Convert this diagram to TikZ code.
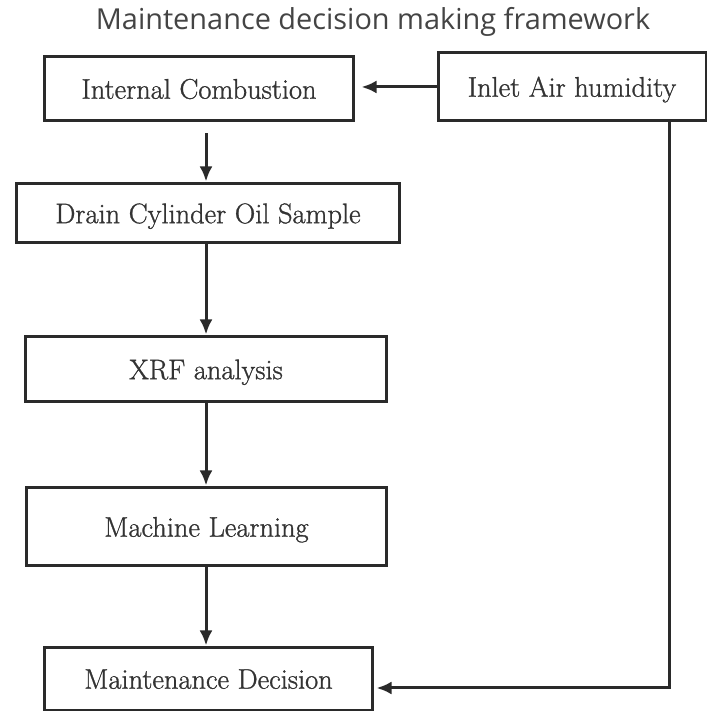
\documentclass[tikz,border=0pt]{standalone}
\usepackage{fontspec}
\newfontfamily\titlefont{Open Sans}
\newfontfamily\boxfont[FakeBold=1]{Latin Modern Roman}
\usetikzlibrary{arrows.meta}
\definecolor{ln}{HTML}{2A2A2A}
\definecolor{tx}{HTML}{333333}
\definecolor{tt}{HTML}{444444}
\begin{document}
\begin{tikzpicture}[x=1bp,y=1bp,
  box/.style={draw=ln,line width=3bp,fill=white,inner sep=0pt,
    font=\boxfont\fontsize{28.5}{30}\selectfont,text=tx,text height=19.5pt,text depth=0pt},
  arr/.style={draw=ln,line width=3bp,-{Latex[length=15bp,width=13bp]}}]
\useasboundingbox (0,0) rectangle (707,711);
\node[anchor=base,font=\titlefont\fontsize{29}{31}\selectfont,text=tt] (title) at (373,681) {Maintenance decision making framework};
\node[box,minimum width=308bp,minimum height=64bp] (ic) at (199,622) {Internal Combustion};
\node[box,minimum width=268bp,minimum height=68bp] (in) at (572,624) {Inlet Air humidity};
\node[box,minimum width=382bp,minimum height=59bp] (dc) at (208,497.5) {Drain Cylinder Oil Sample};
\node[box,minimum width=360bp,minimum height=65bp] (xrf) at (206,341.5) {XRF analysis};
\node[box,minimum width=359bp,minimum height=78bp] (ml) at (206.5,184) {Machine Learning};
\node[box,minimum width=327bp,minimum height=62bp] (md) at (208.5,32) {Maintenance Decision};
\coordinate (ax) at (206,0);
\coordinate (fx) at (669,23);
\draw[arr,shorten <=11bp,shorten >=1bp] (ic.south -| ax) -- (dc.north -| ax);
\draw[arr,shorten >=1bp] (dc.south -| ax) -- (xrf.north -| ax);
\draw[arr,shorten >=1bp] (xrf.south -| ax) -- (ml.north -| ax);
\draw[arr,shorten >=1bp] (ml.south -| ax) -- (md.north -| ax);
\draw[arr,shorten >=7bp] (in.west) -- (in.west -| ic.east);
\draw[arr,shorten >=3bp] (in.south -| fx) -- (fx) -- (fx -| md.east);
\end{tikzpicture}
\end{document}
